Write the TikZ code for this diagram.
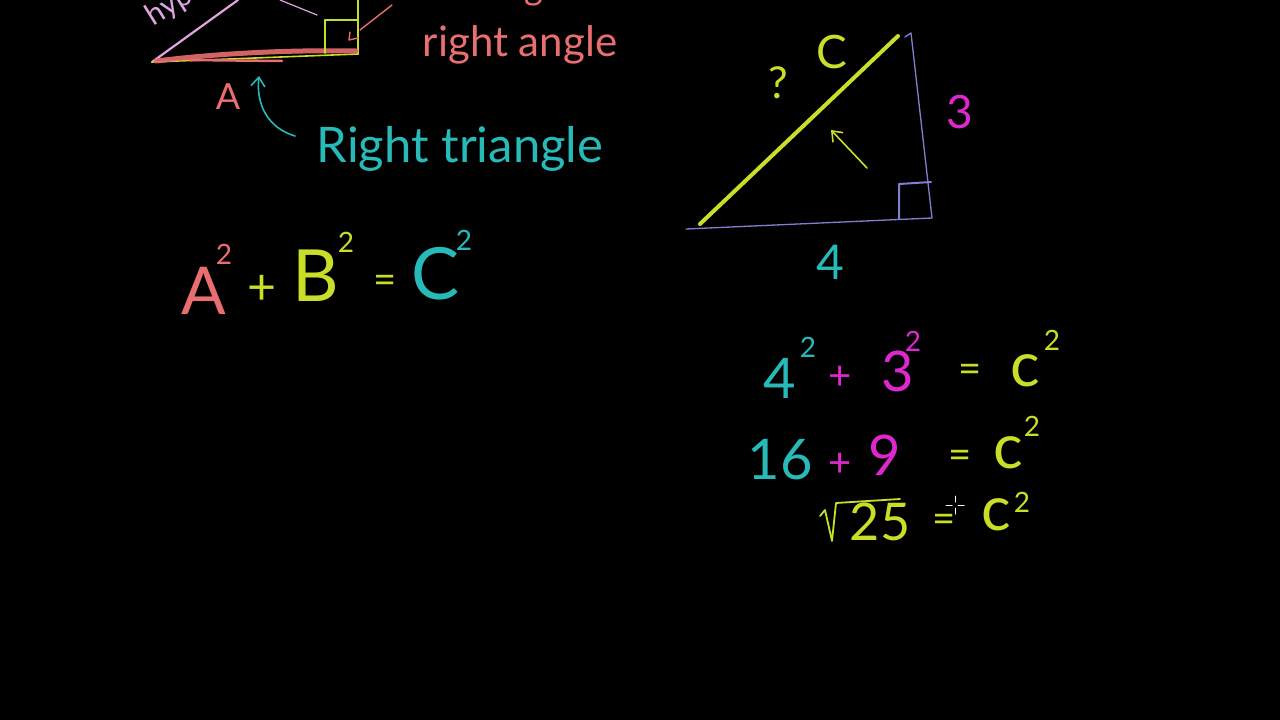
\documentclass[tikz,border=0pt]{standalone}
\usepackage{fontspec}
\setmainfont{Lato}
\usetikzlibrary{arrows.meta,calc}
\definecolor{salmon}{RGB}{232,110,112}
\definecolor{tealc}{RGB}{40,185,185}
\definecolor{ygreen}{RGB}{200,222,40}
\definecolor{magc}{RGB}{222,40,205}
\definecolor{lav}{RGB}{128,128,210}
\definecolor{pinklav}{RGB}{222,165,225}
\tikzset{
  hw/.style={inner sep=0pt, anchor=center},
  fs/.style={font=\fontsize{#1}{#1}\selectfont},
  barb/.style={-{Straight Barb[length=9pt,width=14pt,line width=1.6pt]}},
}
\begin{document}
\begin{tikzpicture}[x=1pt,y=-1pt, line cap=round, line join=round]
\fill[black] (0,0) rectangle (1280,720);
\useasboundingbox (0,0) rectangle (1280,720);
\clip (0,0) rectangle (1280,720);

% ---------- top-left triangle (cut off) ----------
\coordinate (tlA) at (152,62);
\coordinate (tlB) at (358,54);
\coordinate (tlTop) at (358,0);
\coordinate (tlHyp) at (238,0);
\draw[pinklav, line width=2.2pt] (tlA) -- (tlHyp);
\draw[ygreen, line width=2pt] (tlB) -- (tlTop);
\draw[ygreen, line width=1.6pt] (tlA) -- (tlB);
\draw[salmon, line width=5pt, opacity=0.9] (156,61) .. controls (230,52) and (300,50) .. (356,51);
\draw[salmon, line width=2.5pt] (190,60) -- (282,61);
\draw[ygreen, line width=1.6pt] (325,53) -- (325,20) -- (357,20);
\draw[pinklav, line width=1.2pt] (280,0) -- (317,15);
\node[hw, fs=30, text=pinklav, rotate=32] (hyp) at (170,6) {hyp};
% arrow from "90 degree angle"
\coordinate (ang1) at (392,5);
\coordinate (ang2) at (360,30);
\draw[salmon, line width=1.4pt] (ang1) -- (ang2);
\draw[salmon, line width=1.4pt] (350,32) -- (349,40) -- (358,38);
\node[hw, fs=36, text=salmon, anchor=base west] (deg) at (420,-1) {90° angle};
\node[hw, fs=42, text=salmon] (rangle) at (520,45) {right angle};
\node[hw, fs=36, text=salmon] (lblA) at (228,97) {A};
\coordinate (rtstart) at (295,136);
\coordinate (rtend) at (259,76);
\draw[tealc, line width=1.6pt, barb] (rtstart) .. controls (268,128) and (256,105) .. (rtend);
\node[hw, fs=49, text=tealc] (rt) at (460,149) {Right triangle};

% ---------- A^2 + B^2 = C^2 ----------
\node[hw, fs=66, text=salmon] (eA) at (204,291) {A};
\node[hw, fs=28, text=salmon] (eA2) at (224,254) {2};
\node[hw, fs=50, text=ygreen] (eplus) at (262,290) {+};
\node[hw, fs=72, text=ygreen] (eB) at (316,276) {B};
\node[hw, fs=28, text=ygreen] (eB2) at (346,242) {2};
\node[hw, fs=40, text=ygreen] (eeq) at (385,284) {=};
\node[hw, fs=72, text=tealc] (eC) at (436,274) {C};
\node[hw, fs=28, text=tealc] (eC2) at (464,240) {2};

% ---------- right triangle ----------
\coordinate (rA) at (686,229);
\coordinate (rB) at (932,218);
\coordinate (rT) at (911,33);
\draw[lav, line width=1.3pt] (rA) -- (rB) -- (rT) -- (905,37);
\draw[lav, line width=2pt] (899,219) -- (899,184) -- (931,182);
\draw[ygreen, line width=4pt] (700,224) -- (898,36);
\node[hw, fs=44, text=ygreen] (q) at (778,83) {?};
\node[hw, fs=46, text=ygreen] (cc) at (832,52) {C};
\coordinate (yarr1) at (867,168);
\coordinate (yarr2) at (831,130);
\draw[ygreen, line width=1.6pt, barb] (yarr1) -- (yarr2);
\node[hw, fs=46, text=magc] (three) at (960,112) {3};
\node[hw, fs=48, text=tealc] (four) at (830,262) {4};

% ---------- right equations ----------
\node[hw, fs=56, text=tealc] (r1a) at (780,378) {4};
\node[hw, fs=28, text=tealc] (r1a2) at (808,347) {2};
\node[hw, fs=40, text=magc] (r1p) at (840,378) {+};
\node[hw, fs=56, text=magc] (r1b) at (898,371) {3};
\node[hw, fs=28, text=magc] (r1b2) at (913,341) {2};
\node[hw, fs=40, text=ygreen] (r1e) at (970,373) {=};
\node[hw, fs=62, text=ygreen] (r1c) at (1025,371) {c};
\node[hw, fs=28, text=ygreen] (r1c2) at (1052,340) {2};

\node[hw, fs=56, text=tealc] (r2a) at (780,460) {16};
\node[hw, fs=40, text=magc] (r2p) at (840,465) {+};
\node[hw, fs=56, text=magc] (r2b) at (885,455) {9};
\node[hw, fs=40, text=ygreen] (r2e) at (960,459) {=};
\node[hw, fs=62, text=ygreen] (r2c) at (1008,453) {c};
\node[hw, fs=28, text=ygreen] (r2c2) at (1032,426) {2};

\draw[ygreen, line width=1.8pt] (820,516) -- (825,510) -- (832,541) -- (836,503) -- (900,499);
\node[hw, fs=52, text=ygreen] (r3n) at (880,522) {25};
\node[hw, fs=40, text=ygreen] (r3e) at (944,523) {=};
\node[hw, fs=62, text=ygreen] (r3c) at (996,515) {c};
\node[hw, fs=28, text=ygreen] (r3c2) at (1022,502) {2};

% cursor
\coordinate (cur) at (955,505);
\draw[white, line width=1pt] ($(cur)+(-9,0)$) -- ($(cur)+(-3,0)$) ($(cur)+(3,0)$) -- ($(cur)+(9,0)$)
  ($(cur)+(0,-9)$) -- ($(cur)+(0,-3)$) ($(cur)+(0,3)$) -- ($(cur)+(0,9)$);
\end{tikzpicture}
\end{document}
